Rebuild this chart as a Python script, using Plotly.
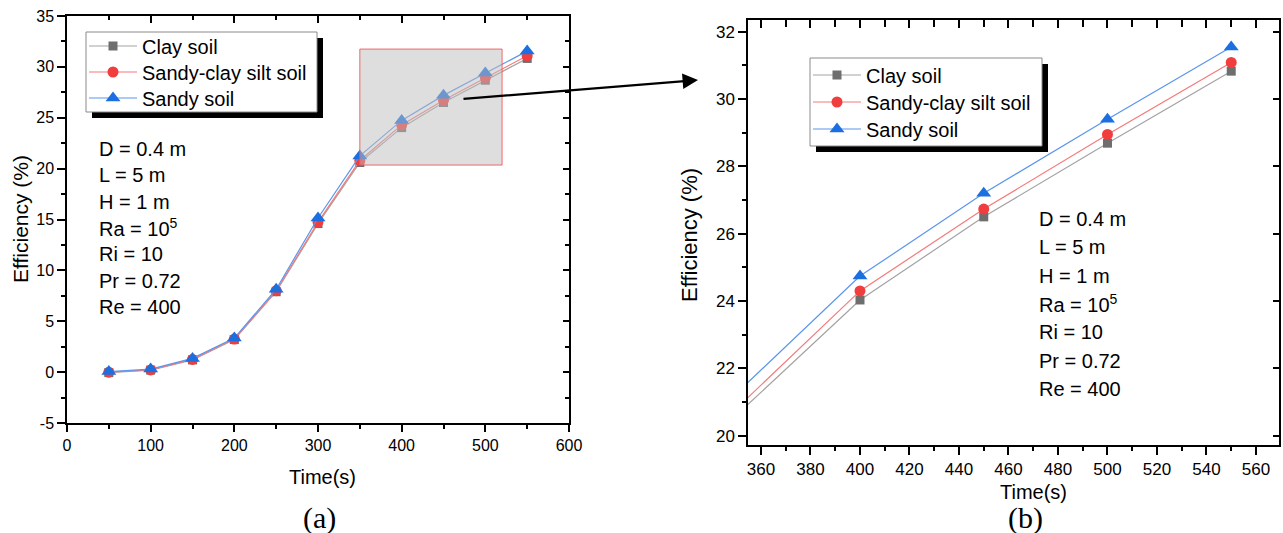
import plotly.graph_objects as go

W, H = 1283, 533

# ---------------- data ----------------
time_s = [50, 100, 150, 200, 250, 300, 350, 400, 450, 500, 550]
clay_soil = [-0.05, 0.2, 1.2, 3.2, 7.9, 14.6, 20.6, 24.03, 26.5, 28.69, 30.83]
sandy_clay_silt_soil = [0.0, 0.22, 1.25, 3.25, 8.0, 14.75, 20.8, 24.3, 26.73, 28.95, 31.09]
sandy_soil = [0.05, 0.3, 1.35, 3.35, 8.15, 15.15, 21.25, 24.74, 27.2, 29.4, 31.55]

series_names = ["Clay soil", "Sandy-clay silt soil", "Sandy soil"]
left_y_ticks = [-5, 0, 5, 10, 15, 20, 25, 30, 35]
left_y_ticktext = ["-5", "0", "5", "10", "15", "20", "25", "30", "35"]
params_text = ["D = 0.4 m", "L = 5 m", "H = 1 m", "Ra = 10<sup>5</sup>",
               "Ri = 10", "Pr = 0.72", "Re = 400"]
inset_x = [350, 520]
inset_y = [20.35, 31.75]

# ---------------- styles ----------------
FONT = "Liberation Sans, Arial, sans-serif"
SERIF = "Liberation Serif, Times New Roman, serif"
marker_cols = ["#6e6e6e", "#f03e3e", "#1c6fe0"]
line_cols = ["#a3a3a3", "#f47a7a", "#5b95ee"]
symbols = ["square", "circle", "triangle-up"]
msizes = [9, 11, 13]


def px(x):
    return x / W


def py(y):
    return 1 - y / H


fig = go.Figure()
all_series = [clay_soil, sandy_clay_silt_soil, sandy_soil]

# one legend per entry so that rows can be placed like the reference
left_legs = ["legend", "legend3", "legend5"]
right_legs = ["legend2", "legend4", "legend6"]

for panel, (xa, ya, legs) in enumerate([("x", "y", left_legs), ("x2", "y2", right_legs)]):
    for i, (name, vals) in enumerate(zip(series_names, all_series)):
        fig.add_trace(go.Scatter(
            x=time_s, y=vals, name=name, mode="lines+markers",
            xaxis=xa, yaxis=ya, legend=legs[i],
            line=dict(color=line_cols[i], width=1.2),
            marker=dict(symbol=symbols[i], color=marker_cols[i], size=msizes[i],
                        line=dict(width=0)),
            showlegend=True,
        ))

# dummy traces to create mirrored tick axes
for xa, ya in [("x3", "y3"), ("x4", "y4")]:
    fig.add_trace(go.Scatter(x=[], y=[], xaxis=xa, yaxis=ya, showlegend=False,
                             hoverinfo="skip"))

axis_common = dict(showgrid=False, zeroline=False, showline=True, linecolor="black",
                   linewidth=1.5, ticks="outside", tickcolor="black", tickwidth=1.5,
                   automargin=False, color="black")

# left panel
fig.update_layout(
    xaxis=dict(domain=[px(67), px(569)], range=[0, 600], tick0=0, dtick=100,
               ticklen=7, anchor="y", mirror=True,
               tickfont=dict(family=FONT, size=16),
               minor=dict(dtick=50, ticks="outside", ticklen=4, tickwidth=1.5,
                          tickcolor="black", showgrid=False),
               **axis_common),
    yaxis=dict(domain=[py(423), py(16)], range=[-5, 35],
               tickmode="array", tickvals=left_y_ticks, ticktext=left_y_ticktext,
               ticklen=8, anchor="x", mirror=True,
               tickfont=dict(family=FONT, size=16),
               minor=dict(dtick=2.5, tick0=0, ticks="outside", ticklen=4, tickwidth=1.5,
                          tickcolor="black", showgrid=False),
               **axis_common),
    xaxis3=dict(overlaying="x", side="top", anchor="y", range=[0, 600], tick0=0, dtick=100,
                ticks="inside", ticklen=7, tickwidth=1.5, tickcolor="black",
                showticklabels=False, showline=False, showgrid=False, zeroline=False,
                minor=dict(dtick=50, ticks="inside", ticklen=4, tickwidth=1.5,
                           tickcolor="black", showgrid=False)),
    yaxis3=dict(overlaying="y", side="right", anchor="x", range=[-5, 35], tick0=0, dtick=5,
                ticks="inside", ticklen=6, tickwidth=1.5, tickcolor="black",
                showticklabels=False, showline=False, showgrid=False, zeroline=False,
                minor=dict(dtick=2.5, ticks="inside", ticklen=4, tickwidth=1.5,
                           tickcolor="black", showgrid=False)),
)

# right panel
xr = [354.75, 569.3]
yr = [19.72, 32.35]
fig.update_layout(
    xaxis2=dict(domain=[px(748), px(1279)], range=xr, tick0=0, dtick=20,
                ticklen=8, anchor="y2", mirror=True,
                tickfont=dict(family=FONT, size=17),
                minor=dict(dtick=10, ticks="outside", ticklen=4, tickwidth=1.5,
                           tickcolor="black", showgrid=False),
                **axis_common),
    yaxis2=dict(domain=[py(445), py(20)], range=yr, tick0=0, dtick=2,
                ticklen=8, anchor="x2", mirror=True,
                tickfont=dict(family=FONT, size=17),
                minor=dict(dtick=1, ticks="outside", ticklen=4, tickwidth=1.5,
                           tickcolor="black", showgrid=False),
                **axis_common),
    xaxis4=dict(overlaying="x2", side="top", anchor="y2", range=xr, tick0=0, dtick=20,
                ticks="inside", ticklen=8, tickwidth=1.5, tickcolor="black",
                showticklabels=False, showline=False, showgrid=False, zeroline=False,
                minor=dict(dtick=10, ticks="inside", ticklen=7, tickwidth=1.5,
                           tickcolor="black", showgrid=False)),
    yaxis4=dict(overlaying="y2", side="right", anchor="x2", range=yr, tick0=0, dtick=2,
                ticks="inside", ticklen=6, tickwidth=1.5, tickcolor="black",
                showticklabels=False, showline=False, showgrid=False, zeroline=False),
)

# legends (items only; boxes drawn as shapes)
leg_common = dict(bgcolor="rgba(0,0,0,0)", borderwidth=0, xanchor="left", yanchor="middle",
                  font=dict(family=FONT, size=20, color="black"), itemwidth=48)
left_rows = [46, 72, 98]
right_rows = [75, 102, 129]
leg_layout = {}
for name, row in zip(left_legs, left_rows):
    leg_layout[name] = dict(x=px(84), y=py(row), **leg_common)
for name, row in zip(right_legs, right_rows):
    leg_layout[name] = dict(x=px(808), y=py(row), **leg_common)
fig.update_layout(**leg_layout)

shapes = []
# legend boxes with drop shadows
for (x0, y0, x1, y1) in [(86, 32, 317, 112), (810, 58, 1042, 146)]:
    shapes.append(dict(type="rect", xref="paper", yref="paper", layer="above",
                       x0=px(x0 + 6), x1=px(x1 + 6), y0=py(y1 + 6), y1=py(y0 + 6),
                       fillcolor="black", line=dict(width=0)))
    shapes.append(dict(type="rect", xref="paper", yref="paper", layer="above",
                       x0=px(x0), x1=px(x1), y0=py(y1), y1=py(y0),
                       fillcolor="white", line=dict(color="#8a8a8a", width=1)))
# inset zoom region in left panel
shapes.append(dict(type="rect", xref="x", yref="y", layer="above",
                   x0=inset_x[0], x1=inset_x[1], y0=inset_y[0], y1=inset_y[1],
                   fillcolor="rgba(190,190,190,0.5)",
                   line=dict(color="rgba(240,90,90,0.9)", width=1)))
fig.update_layout(shapes=shapes)


def txt(text, x, y, size, family=FONT, angle=0, xanchor="center"):
    return dict(text=text, x=px(x), y=py(y), xref="paper", yref="paper",
                xanchor=xanchor, yanchor="middle", textangle=angle, showarrow=False,
                font=dict(family=family, size=size, color="black"))


ann = []
# axis titles
ann.append(txt("Efficiency (%)", 20, 219, 21, angle=-90))
ann.append(txt("Time(s)", 322, 477, 20))
ann.append(txt("Efficiency (%)", 689, 235, 22, angle=-90))
ann.append(txt("Time(s)", 1033, 492, 20))
# captions
ann.append(txt("(a)", 319, 518, 30, family=SERIF))
ann.append(txt("(b)", 1025, 518, 30, family=SERIF))
# parameter text blocks
for k, t in enumerate(params_text):
    ann.append(txt(t, 97, 149 + 26.3 * k, 20, xanchor="left"))
    ann.append(txt(t, 1037, 219 + 28.3 * k, 20, xanchor="left"))
# arrow from inset to zoom panel
ann.append(dict(text="", x=px(698), y=py(80), xref="paper", yref="paper",
                ax=462 - 698, ay=99 - 80, showarrow=True, arrowhead=2, arrowsize=1.4,
                arrowwidth=2.2, arrowcolor="black", standoff=0))
fig.update_layout(annotations=ann)

fig.update_layout(
    width=W, height=H, autosize=False,
    margin=dict(l=0, r=0, t=0, b=0, pad=0),
    paper_bgcolor="white", plot_bgcolor="white",
    font=dict(family=FONT, color="black"),
)

fig.write_html("out.html")
